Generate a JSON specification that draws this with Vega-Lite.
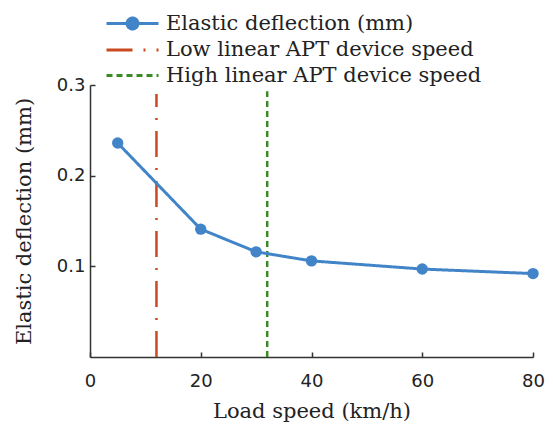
{
  "$schema": "https://vega.github.io/schema/vega-lite/v6.json",
  "autosize": "none",
  "width": 443,
  "height": 272,
  "padding": {"left": 90, "top": 85, "right": 20, "bottom": 72},
  "background": "white",
  "config": {
    "view": {"stroke": null},
    "axis": {
      "grid": false,
      "domainColor": "#333333",
      "domainWidth": 1.5,
      "tickColor": "#333333",
      "tickWidth": 1.5,
      "tickSize": -5,
      "labelFlush": false,
      "labelFont": "DejaVu Sans",
      "labelFontSize": 18,
      "labelColor": "#222222",
      "titleFont": "DejaVu Serif",
      "titleFontSize": 21,
      "titleFontWeight": "normal",
      "titleColor": "#222222"
    }
  },
  "datasets": {
    "curve": [
      {"speed": 5, "deflection": 0.236, "series": "Elastic deflection (mm)"},
      {"speed": 20, "deflection": 0.141, "series": "Elastic deflection (mm)"},
      {"speed": 30, "deflection": 0.116, "series": "Elastic deflection (mm)"},
      {"speed": 40, "deflection": 0.106, "series": "Elastic deflection (mm)"},
      {"speed": 60, "deflection": 0.097, "series": "Elastic deflection (mm)"},
      {"speed": 80, "deflection": 0.092, "series": "Elastic deflection (mm)"}
    ],
    "refs": [
      {"speed": 12, "y0": 0, "y1": 0.29, "series": "Low linear APT device speed"},
      {"speed": 32, "y0": 0, "y1": 0.293, "series": "High linear APT device speed"}
    ]
  },
  "layer": [
    {
      "data": {"name": "refs"},
      "mark": {"type": "rule", "strokeWidth": 2.5},
      "encoding": {
        "x": {"field": "speed", "type": "quantitative"},
        "y": {"field": "y0", "type": "quantitative"},
        "y2": {"field": "y1"},
        "color": {"field": "series", "type": "nominal"},
        "strokeDash": {"field": "series", "type": "nominal"}
      }
    },
    {
      "data": {"name": "curve"},
      "mark": {"type": "line", "strokeWidth": 3, "point": {"filled": true, "size": 130, "opacity": 1}},
      "encoding": {
        "x": {
          "field": "speed", "type": "quantitative",
          "scale": {"domain": [0, 80], "nice": false},
          "axis": {"values": [0, 20, 40, 60, 80], "title": "Load speed (km/h)", "titlePadding": 10, "labelPadding": 20}
        },
        "y": {
          "field": "deflection", "type": "quantitative",
          "scale": {"domain": [0, 0.3], "nice": false},
          "axis": {"values": [0.1, 0.2, 0.3], "format": ".1f", "title": "Elastic deflection (mm)", "titlePadding": 22, "labelPadding": 10}
        },
        "color": {
          "field": "series", "type": "nominal",
          "scale": {
            "domain": ["Elastic deflection (mm)", "Low linear APT device speed", "High linear APT device speed"],
            "range": ["#4284c8", "#c94a20", "#3a8a28"]
          },
          "legend": {
            "title": null,
            "orient": "none",
            "legendX": 28,
            "legendY": -76,
            "padding": 0,
            "symbolType": "M-2,0L2,0",
            "symbolSize": 676,
            "symbolStrokeWidth": 3,
            "labelFont": "DejaVu Serif",
            "labelFontSize": 21,
            "labelColor": "#222222",
            "labelLimit": 0,
            "labelOffset": 19,
            "rowPadding": 0.5,
            "encode": {
              "symbols": {
                "update": {
                  "shape": {"signal": "datum.value === 'Elastic deflection (mm)' ? 'M-2,0L2,0M-0.42,0A0.42,0.42 0 1,0 0.42,0A0.42,0.42 0 1,0 -0.42,0' : 'M-2,0L2,0'"},
                  "fill": {"signal": "datum.value === 'Elastic deflection (mm)' ? '#4284c8' : 'transparent'"}
                }
              }
            }
          }
        },
        "strokeDash": {
          "field": "series", "type": "nominal",
          "scale": {
            "domain": ["Elastic deflection (mm)", "Low linear APT device speed", "High linear APT device speed"],
            "range": [[1, 0], [26, 11, 2, 11], [6, 4]]
          }
        }
      }
    }
  ]
}
